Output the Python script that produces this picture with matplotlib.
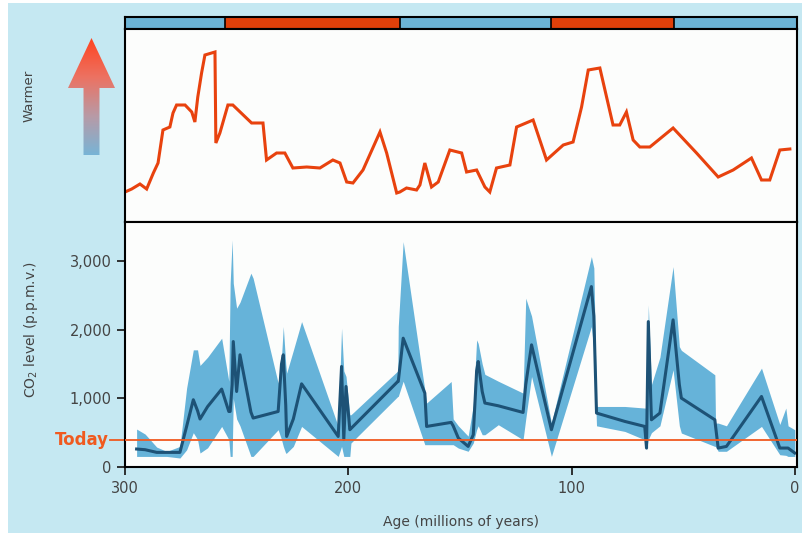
import numpy as np
import matplotlib
matplotlib.use('Agg')
import matplotlib.pyplot as plt
from matplotlib.patches import Polygon, Rectangle
from matplotlib.colors import LinearSegmentedColormap

# climate modes strip (age from, age to, mode)
mode_start = [300, 255, 177, 109, 54]
mode_end = [255, 177, 109, 54, -1]
mode_kind = ['cool', 'warm', 'cool', 'warm', 'cool']

# temperature index (relative, no units)
temp_age = [300, 297.0, 293.3, 290.3, 287.3, 285.2, 283.0, 279.9, 278.5, 276.9,
            273.1, 270.1, 268.7, 267.4, 265.7, 264.2, 259.7, 259.3, 257.5, 253.9,
            251.7, 243.3, 238.2, 236.6, 232.1, 228.4, 224.8, 218.6, 212.7, 206.9,
            203.7, 200.7, 197.9, 193.4, 185.8, 182.8, 178.3, 176.9, 173.9, 169.4,
            167.9, 165.7, 162.7, 159.7, 154.5, 149.2, 147.0, 142.5, 138.8, 136.6,
            133.6, 127.6, 124.6, 117.2, 111.2, 103.7, 99.3, 95.5, 92.5, 87.3,
            81.4, 78.4, 75.4, 72.4, 69.4, 64.9, 54.5, 44.0, 34.3, 27.6,
            19.4, 14.9, 11.2, 6.7, 2.2]
temp_val = [30, 33, 38, 33, 49, 59, 92, 95, 109, 117,
            117, 110, 100, 125, 149, 167, 170, 79, 89, 117,
            117, 99, 99, 62, 69, 69, 54, 55, 54, 62,
            59, 40, 39, 52, 90, 69, 29, 30, 34, 32,
            37, 59, 35, 40, 72, 69, 50, 52, 35, 30,
            54, 57, 95, 102, 62, 77, 80, 115, 152, 154,
            97, 97, 110, 82, 75, 75, 94, 69, 45, 52,
            64, 42, 42, 72, 73]

# CO2 (p.p.m.v.): best estimate and range
co2_age = [294.8, 291.0, 285.8, 281.3, 275.4, 272.4, 269.4, 267.5, 266.4, 263.0,
           256.7, 253.5, 252.9, 252.0, 251.5, 250.0, 248.5, 243.6, 242.6, 231.4,
           229.9, 229.1, 228.0, 227.6, 224.6, 220.9, 204.5, 203.0, 202.0, 201.0,
           199.3, 198.8, 177.8, 177.6, 175.4, 165.7, 164.9, 153.9, 153.0, 150.7, 146.3,
           144.0, 142.5, 141.8, 140.0, 138.8, 132.8, 121.7, 120.5, 117.9, 109.0,
           91.1, 90.0, 88.8, 76.1, 67.2, 66.4, 65.6, 64.2, 60.4, 54.5,
           51.7, 50.8, 35.8, 35.5, 34.3, 30.6, 14.9, 6.7, 4.0, 3.0, 0.0]
co2_mid = [262, 252, 213, 213, 213, 591, 980, 820, 699, 880,
           1135, 809, 809, 1200, 1828, 1100, 1635, 800, 713, 809,
           1500, 1635, 900, 445, 700, 1212, 445, 1465, 400, 1173,
           543, 560, 1246, 1246, 1877, 1077, 591, 650, 600, 422, 300,
           470, 1400, 1537, 1100, 932, 892, 795, 1200, 1780, 543,
           2629, 2200, 786, 664, 591, 276, 2119, 688, 786, 2144,
           1200, 1004, 688, 600, 276, 300, 1028, 276, 276, 276, 204]
co2_lo = [154, 154, 154, 154, 131, 250, 500, 400, 204, 280,
          591, 400, 154, 154, 1000, 700, 600, 154, 154, 543,
          400, 300, 200, 204, 300, 591, 154, 300, 154, 154,
          154, 349, 1028, 1028, 1250, 325, 325, 325, 325, 276, 229,
          350, 543, 600, 470, 470, 616, 397, 700, 1319, 154,
          2047, 1700, 600, 518, 397, 250, 400, 500, 600, 1416,
          600, 495, 300, 300, 229, 229, 591, 179, 170, 154, 154]
co2_hi = [553, 480, 290, 227, 300, 1150, 1707, 1707, 1480, 1600,
          1877, 1250, 2678, 3308, 2678, 2314, 2400, 2824, 2750, 1223,
          1600, 2047, 1500, 1368, 1700, 2119, 591, 2023, 1400, 1319,
          761, 761, 1400, 2047, 3284, 1120, 932, 1246, 700, 600, 450,
          900, 1853, 1800, 1500, 1350, 1250, 1077, 2460, 2200, 640,
          3066, 2900, 882, 882, 859, 859, 2362, 1200, 1600, 2920,
          1755, 1700, 1343, 640, 640, 600, 1441, 620, 859, 600, 543]

today_co2 = 400

bg = '#c5e8f2'
red = '#e8420e'
blue_band = '#66b3d9'
dark_line = '#1d5276'
W, H = 802, 533

def box(l, t, r, b):
    return [l / W, 1 - b / H, (r - l) / W, (b - t) / H]

fig = plt.figure(figsize=(W / 100, H / 100), dpi=100, facecolor='white')
fig.patches.append(Rectangle((8 / W, 0), 1, 1 - 3 / H, transform=fig.transFigure,
                             facecolor=bg, edgecolor='none', zorder=-10))

# strip of cool / warm modes
strip = fig.add_axes(box(125, 17, 797, 29))
for a0, a1, k in zip(mode_start, mode_end, mode_kind):
    strip.axvspan(a1, a0, color='#6cb4d6' if k == 'cool' else '#e0400a', lw=0)
    strip.axvline(a1, color='black', lw=1.2)
strip.set_xlim(300, -1)
strip.set_xticks([])
strip.set_yticks([])
for s in strip.spines.values():
    s.set_linewidth(1.5)

# temperature panel
ax1 = fig.add_axes(box(125, 29, 797, 222))
ax1.set_facecolor('#fcfdfc')
ax1.plot(temp_age, temp_val, color=red, lw=2.2, solid_joinstyle='miter')
ax1.set_xlim(300, -1)
ax1.set_ylim(0, 193)
ax1.set_xticks([])
ax1.set_yticks([])
for s in ax1.spines.values():
    s.set_linewidth(1.5)
ax1.text(-0.143, 0.655, 'Warmer', transform=ax1.transAxes, rotation=90,
         ha='center', va='center', fontsize=9.5, color='#444444')

# gradient arrow
arr = fig.add_axes(box(68, 38, 115, 155))
arr.set_axis_off()
arr.set_xlim(0, 1)
arr.set_ylim(0, 1)
cmap = LinearSegmentedColormap.from_list('warm', ['#78b4d6', '#b89aa6', '#ec7262', '#ff4420'])
grad = np.linspace(0, 1, 256).reshape(-1, 1)
im = arr.imshow(grad, cmap=cmap, origin='lower', extent=[0, 1, 0, 1], aspect='auto')
hb = 1 - 50 / 117
shape = Polygon([(0.33, 0), (0.67, 0), (0.67, hb), (1, hb), (0.5, 1), (0, hb), (0.33, hb)],
                closed=True, transform=arr.transData, facecolor='none', edgecolor='none')
arr.add_patch(shape)
im.set_clip_path(shape)

# CO2 panel
ax2 = fig.add_axes(box(125, 222, 797, 467))
ax2.set_facecolor('#fcfdfc')
ax2.fill_between(co2_age, co2_lo, co2_hi, color=blue_band, lw=0)
ax2.plot(co2_age, co2_mid, color=dark_line, lw=2.2)
ax2.axhline(today_co2, color='#f05a20', lw=1.3, zorder=5)
ax2.plot([-0.022, 0], [today_co2, today_co2], transform=ax2.get_yaxis_transform(),
         color='#f05a20', lw=1.3, clip_on=False)
ax2.text(-0.024, today_co2, 'Today', transform=ax2.get_yaxis_transform(),
         ha='right', va='center', fontsize=12, fontweight='bold', color='#f05a20')
ax2.set_xlim(300, -1)
ax2.set_ylim(0, 3570)
ax2.set_xticks([300, 200, 100, 0])
ax2.set_xticklabels(['300', '200', '100', '0'])
ax2.set_yticks([0, 1000, 2000, 3000])
ax2.set_yticklabels(['0', '1,000', '2,000', '3,000'])
ax2.tick_params(axis='both', direction='out', length=6, width=1.3, colors='#222222',
                labelsize=10.5, labelcolor='#444444')
ax2.tick_params(axis='x', pad=4)
for s in ax2.spines.values():
    s.set_linewidth(1.5)
ax2.set_ylabel('CO$_2$ level (p.p.m.v.)', fontsize=10, color='#444444')
ax2.set_xlabel('Age (millions of years)', fontsize=10, color='#444444', labelpad=14)
ax2.yaxis.set_label_coords(-0.127, 0.56)

fig.savefig('out.png', dpi=100, facecolor=fig.get_facecolor())
